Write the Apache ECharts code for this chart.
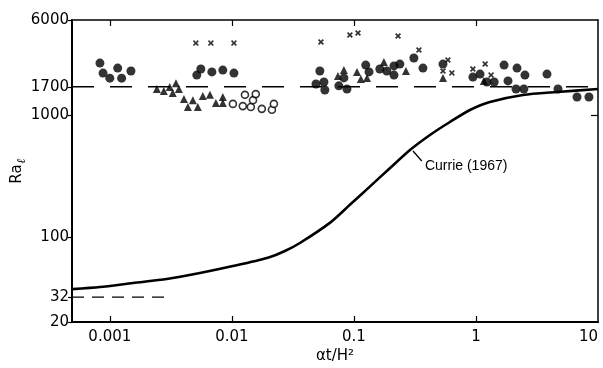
<!DOCTYPE html>
<html>
<head>
<meta charset="utf-8">
<script src="https://cdn.jsdelivr.net/npm/echarts@6/dist/echarts.min.js"></script>
<style>
  html, body { margin: 0; padding: 0; background: #fff; }
  #chart { width: 603px; height: 368px; }
</style>
</head>
<body>
<div id="chart"></div>
<script>
// Axis ranges (log-log)
const xMin = 0.00049, xMax = 10;
const yMin = 20, yMax = 6000;

// Tick values and their printed labels
const xTickValues = [0.001, 0.01, 0.1, 1, 10];
const xTickLabels = ['0.001', '0.01', '0.1', '1', '10'];
const yTickValues = [20, 32, 100, 1000, 1700, 6000];
const yTickLabels = ['20', '32', '100', '1000', '1700', '6000'];

// Currie (1967) onset curve
const curveX = [0.00049, 0.00083, 0.00155, 0.00293, 0.00547, 0.0102, 0.0194, 0.0272, 0.0361, 0.0635,
                0.0927, 0.135, 0.197, 0.288, 0.42, 0.612, 0.893, 1.30, 2.43, 4.61, 10];
const curveY = [37.2, 38.7, 41.8, 45.0, 50.4, 57.5, 67.0, 76.4, 88.9, 130,
                183, 258, 365, 515, 684, 874, 1096, 1275, 1455, 1539, 1629];

// Critical Rayleigh numbers (dashed references)
const critHigh = 1700;
const critHighX = [xMin, 10];
const critLow = 32;
const critLowX = [xMin, 0.0031];

// Measured onsets: [at/H^2, Ra_l]
const solidCircles = [
  [0.00083, 2660], [0.00088, 2200], [0.0010, 2000], [0.00116, 2420], [0.00125, 2000], [0.00149, 2290],
  [0.00516, 2120], [0.00557, 2380], [0.00686, 2250], [0.00843, 2330], [0.0104, 2200],
  [0.0526, 2290], [0.0489, 1790], [0.0568, 1860], [0.0578, 1600], [0.0753, 1730], [0.0828, 2010], [0.0877, 1630],
  [0.125, 2560], [0.133, 2250], [0.163, 2380], [0.186, 2290], [0.213, 2120], [0.213, 2520], [0.238, 2610],
  [0.31, 2930], [0.368, 2420], [0.537, 2610],
  [0.944, 2040], [1.08, 2160], [1.23, 1860], [1.41, 1860], [1.70, 2560], [1.83, 1900], [2.17, 2420],
  [2.13, 1630], [2.52, 2120], [2.47, 1630], [3.82, 2160], [4.70, 1630], [6.73, 1400], [8.43, 1400]
];
const triangles = [
  [0.00243, 1630], [0.00277, 1570], [0.0031, 1690], [0.00328, 1510], [0.00348, 1820], [0.00368, 1630],
  [0.00405, 1350], [0.00436, 1160], [0.00479, 1320], [0.00526, 1160], [0.00578, 1430], [0.00661, 1460],
  [0.0074, 1250], [0.00843, 1400], [0.00843, 1250],
  [0.074, 2080], [0.0828, 2330], [0.106, 2250], [0.114, 1970], [0.128, 2010], [0.176, 2710],
  [0.267, 2290], [0.537, 2010], [1.16, 1900]
];
const openCircles = [
  [0.0102, 1230], [0.0123, 1180], [0.0128, 1460], [0.0143, 1160], [0.0149, 1320],
  [0.0157, 1480], [0.0176, 1120], [0.0213, 1100], [0.0221, 1230]
];
const crosses = [
  [0.00507, 3880], [0.00673, 3880], [0.0104, 3880], [0.0537, 3960], [0.0927, 4520], [0.108, 4690],
  [0.23, 4440], [0.341, 3400], [0.589, 2820], [0.537, 2290], [0.635, 2210], [0.944, 2380],
  [1.19, 2610], [1.33, 2120]
];

// Annotation anchor points for the curve label and its arrow
const curveLabelAt = [0.382, 380];
const arrowFrom = [0.36, 418];
const arrowTo = [0.305, 505];

const FONT = 'DejaVu Sans';
const INK = '#000';

function labelFor(values, labels) {
  return function (v) {
    let best = 0, bestD = Infinity;
    values.forEach(function (t, i) {
      const d = Math.abs(Math.log10(t) - Math.log10(v));
      if (d < bestD) { bestD = d; best = i; }
    });
    return labels[best];
  };
}

const chart = echarts.init(document.getElementById('chart'), null, { renderer: 'canvas' });

// bold "x" marker
const crossPath = 'path://M0,2L2,0L5,3L8,0L10,2L7,5L10,8L8,10L5,7L2,10L0,8L3,5Z';

chart.setOption({
  animation: false,
  backgroundColor: '#fff',
  grid: { left: 72, right: 5, top: 20, bottom: 46, show: false, containLabel: false, outerBoundsMode: 'none' },
  xAxis: [
    {
      type: 'log', min: xMin, max: xMax, position: 'bottom',
      name: 'αt/H²', nameLocation: 'middle', nameGap: 27, nameMoveOverlap: false,
      nameTextStyle: { fontFamily: FONT, fontSize: 15, color: INK },
      axisLine: { show: true, onZero: false, lineStyle: { color: INK, width: 2 } },
      axisTick: { show: true, inside: true, length: 6, customValues: xTickValues.slice(0, 4), lineStyle: { color: INK, width: 1.2 } },
      axisLabel: { show: true, margin: 8, customValues: xTickValues, fontFamily: FONT, fontSize: 15, color: INK,
                   alignMaxLabel: 'right',
                   formatter: labelFor(xTickValues, xTickLabels) },
      splitLine: { show: false }, minorTick: { show: false }
    },
    {
      type: 'log', min: xMin, max: xMax, position: 'top',
      axisLine: { show: true, onZero: false, lineStyle: { color: INK, width: 1.5 } },
      axisTick: { show: true, inside: true, length: 6, customValues: xTickValues.slice(0, 4), lineStyle: { color: INK, width: 1.2 } },
      axisLabel: { show: false },
      splitLine: { show: false }
    }
  ],
  yAxis: [
    {
      type: 'log', min: yMin, max: yMax, position: 'left',
      name: '{r|Ra}{s|ℓ}', nameLocation: 'middle', nameGap: 44, nameRotate: 90, nameMoveOverlap: false,
      nameTextStyle: {
        color: INK,
        rich: {
          r: { fontFamily: FONT, fontSize: 15, color: INK },
          s: { fontFamily: 'DejaVu Serif', fontSize: 12, fontStyle: 'italic', fontWeight: 'bold', color: INK, padding: [9, 0, 0, 1] }
        }
      },
      axisLine: { show: true, onZero: false, lineStyle: { color: INK, width: 2 } },
      axisTick: { show: true, inside: false, length: 4, customValues: yTickValues, lineStyle: { color: INK, width: 1.2 } },
      axisLabel: { show: true, margin: 3, customValues: yTickValues, fontFamily: FONT, fontSize: 15, color: INK,
                   formatter: labelFor(yTickValues, yTickLabels) },
      splitLine: { show: false }, minorTick: { show: false }
    },
    {
      type: 'log', min: yMin, max: yMax, position: 'right',
      axisLine: { show: true, onZero: false, lineStyle: { color: INK, width: 1.5 } },
      axisTick: { show: true, inside: true, length: 7, customValues: [1000], lineStyle: { color: INK, width: 1.2 } },
      axisLabel: { show: false },
      splitLine: { show: false }
    }
  ],
  series: [
    {
      name: 'Ra 1700', type: 'line', silent: true, symbol: 'none',
      data: critHighX.map(function (x) { return [x, critHigh]; }),
      lineStyle: { color: INK, width: 1.6, type: [22, 16] }
    },
    {
      name: 'Ra 32', type: 'line', silent: true, symbol: 'none',
      data: critLowX.map(function (x) { return [x, critLow]; }),
      lineStyle: { color: INK, width: 1.4, type: [12, 8] }
    },
    {
      name: 'Currie (1967)', type: 'line', silent: true, symbol: 'none', smooth: 0.25,
      data: curveX.map(function (x, i) { return [x, curveY[i]]; }),
      lineStyle: { color: INK, width: 2.6 },
      markPoint: {
        silent: true, symbol: 'circle', symbolSize: 0,
        data: [{ coord: curveLabelAt, value: 0 }],
        label: { show: true, position: 'right', distance: 0, formatter: 'Currie (1967)',
                 fontFamily: 'Liberation Sans', fontSize: 14, color: INK }
      },
      markLine: {
        silent: true, symbol: ['none', 'arrow'], symbolSize: [0, 6],
        label: { show: false },
        lineStyle: { color: INK, width: 1.3, type: 'solid', curveness: 0.25 },
        data: [[{ coord: arrowFrom }, { coord: arrowTo }]]
      }
    },
    {
      name: 'solid circles', type: 'scatter', symbol: 'circle', symbolSize: 9,
      data: solidCircles, itemStyle: { color: INK }
    },
    {
      name: 'triangles', type: 'scatter', symbol: 'triangle', symbolSize: 8,
      data: triangles, itemStyle: { color: INK }
    },
    {
      name: 'open circles', type: 'scatter', symbol: 'circle', symbolSize: 7,
      data: openCircles, itemStyle: { color: '#fff', borderColor: INK, borderWidth: 1.6 }
    },
    {
      name: 'crosses', type: 'scatter', symbol: crossPath, symbolSize: 6,
      data: crosses, itemStyle: { color: INK }
    }
  ]
});
</script>
</body>
</html>
